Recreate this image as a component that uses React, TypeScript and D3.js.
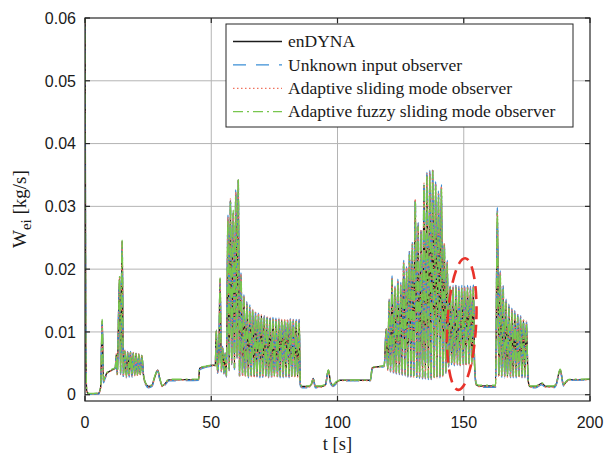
import React, { useEffect, useRef } from "react";
import * as d3 from "d3";

////////////////////
//// Data

// sample times [s], shared by all four series
const timeS = [
    0, 0.3, 0.7, 1.5, 5.3, 6.2, 6.8, 7.3, 7.8, 8.6, 10.5, 12.0,
    12.4, 12.8, 13.3, 13.7, 14.1, 14.7, 15.2, 15.8, 16.4, 16.9, 17.5, 18.0, 18.6, 19.1, 19.7, 20.2, 20.8, 21.3, 21.9, 22.5, 23.2,
    24.0, 25.2, 26.5, 27.6, 28.8, 29.6, 30.6, 31.8, 33.2, 45.0, 45.4, 48.0, 51.0,
    51.6, 52.0, 52.5, 53.0, 53.5, 54.0, 54.5, 55.0, 55.5, 56.0,
    56.6, 57.1, 57.6, 58.1, 58.7, 59.2, 59.7, 60.2, 60.7, 61.2,
    61.8, 62.4, 62.95, 63.5, 64.1, 64.7, 65.25, 65.8, 66.4, 67.0, 67.55, 68.1, 68.7, 69.3, 69.85, 70.4, 71.0, 71.6, 72.15, 72.7,
    73.3, 73.9, 74.45, 75.0, 75.6, 76.2, 76.75, 77.3, 77.9, 78.5, 79.05, 79.6, 80.2, 80.8, 81.35, 81.9, 82.5, 83.1, 83.65, 84.2,
    84.8, 85.3,
    86.0, 88.5, 89.6, 90.4, 91.2, 93.5, 95.2, 96.4, 97.3, 98.2, 99.6, 101.0, 113.0, 113.8, 118.5,
    119.3, 119.9, 120.45, 121.0, 121.6, 122.2, 122.75, 123.3, 123.9, 124.5, 125.05, 125.6, 126.2, 126.8, 127.35, 127.9, 128.5, 129.1, 129.65, 130.2, 130.8, 131.4,
    131.95, 132.5, 133.1, 133.7, 134.25, 134.8, 135.4, 136.0, 136.55, 137.1, 137.7, 138.3, 138.85, 139.4, 140.0, 140.6, 141.15, 141.7, 142.3, 142.9, 143.45, 144.0,
    144.6, 145.2, 145.75, 146.3, 146.9, 147.5, 148.05, 148.6, 149.2, 149.8, 150.35, 150.9, 151.5, 152.1, 152.65, 153.2, 153.8, 154.3, 155.0, 156.0, 162.6,
    163.3, 163.9, 164.45, 165.0, 165.6, 166.2, 166.75, 167.3, 167.9, 168.5, 169.05, 169.6, 170.2, 170.8, 171.35, 171.9, 172.5, 173.1, 173.65, 174.2, 174.8, 175.5,
    176.2, 178.5, 180.9, 182.5, 185.5, 186.6, 188.2, 189.5, 190.5, 191.6, 200,
];

// W_ei in 1e-3 kg/s
const enDyna = [
    65, 8, 0.5, 0.15, 0.2, 1.2, 11.8, 2.2, 2.6, 3.4, 3.9, 4.3,
    6.4, 3.2, 12.7, 18.8, 3.4, 24.5, 3.0, 7.0, 2.9, 6.8, 3.0, 6.8, 3.0, 6.7, 3.1, 6.6, 3.1, 6.5, 3.2, 6.3, 3.0,
    1.8, 1.3, 1.5, 2.8, 3.9, 2.6, 1.4, 1.8, 2.35, 2.45, 4.2, 4.5, 4.7,
    4.6, 10.2, 3.6, 6.0, 18.5, 3.8, 7.5, 3.5, 6.5, 3.0,
    28.0, 4.0, 31.0, 5.0, 29.0, 4.2, 32.1, 6.0, 34.3, 3.0,
    19.0, 3.1, 15.6, 3.0, 14.5, 2.9, 14.0, 3.0, 13.5, 2.9, 13.0, 3.0, 12.8, 2.9, 12.6, 2.9, 12.4, 3.0, 12.3, 2.9,
    12.2, 2.9, 12.1, 3.0, 12.0, 2.9, 12.0, 2.9, 11.9, 2.9, 11.9, 3.0, 11.9, 2.9, 11.9, 2.9, 11.8, 2.9, 11.8, 2.9,
    11.8, 1.6,
    1.3, 1.3, 1.6, 2.6, 1.3, 1.3, 1.6, 3.9, 1.9, 1.5, 2.0, 2.3, 2.3, 4.3, 4.6,
    10.5, 4.0, 15.0, 3.8, 18.5, 3.6, 17.0, 3.5, 18.0, 3.4, 17.5, 3.3, 21.0, 3.2, 20.0, 3.0, 22.5, 3.0, 24.0, 2.9, 31.0, 2.8,
    27.0, 2.8, 26.0, 2.7, 33.5, 2.7, 35.0, 2.6, 35.3, 2.6, 35.8, 2.7, 33.5, 2.8, 32.0, 2.9, 33.0, 3.0, 24.0, 3.6, 21.0, 4.6,
    17.2, 5.0, 17.1, 4.8, 17.2, 4.9, 17.0, 4.7, 17.1, 4.9, 17.0, 4.8, 17.1, 4.9, 17.0, 4.8, 17.2, 4.6, 1.6, 1.4, 1.4,
    29.0, 3.0, 19.3, 2.9, 17.0, 2.9, 14.8, 2.9, 14.0, 2.9, 13.4, 2.9, 13.0, 2.9, 12.6, 2.9, 12.2, 2.9, 11.9, 2.9, 11.5, 2.3,
    1.3, 1.3, 1.8, 1.3, 1.3, 1.7, 4.0, 1.6, 2.0, 2.4, 2.45,
];

const unknownInput = [
    66, 9, 0.3, 0.05, 0.1, 1.0, 11.5, 1.9, 2.4, 3.2, 3.8, 4.2,
    6.6, 3.0, 13.0, 18.5, 3.2, 24.0, 2.8, 7.2, 2.7, 6.9, 2.8, 6.9, 2.8, 6.8, 2.9, 6.7, 2.9, 6.6, 3.0, 6.4, 2.8,
    1.6, 1.1, 1.3, 2.6, 3.8, 2.4, 1.2, 1.6, 2.2, 2.3, 4.0, 4.4, 4.6,
    4.5, 10.0, 3.4, 6.2, 18.2, 3.6, 7.7, 3.3, 6.7, 2.8,
    28.6, 3.8, 31.5, 4.8, 28.6, 4.0, 32.6, 5.8, 34.0, 2.8,
    19.4, 2.9, 15.9, 2.8, 14.8, 2.7, 14.3, 2.8, 13.8, 2.7, 13.3, 2.8, 13.0, 2.7, 12.8, 2.7, 12.6, 2.8, 12.5, 2.7,
    12.4, 2.7, 12.3, 2.8, 12.2, 2.7, 12.2, 2.7, 12.1, 2.7, 12.1, 2.8, 12.1, 2.7, 12.1, 2.7, 12.0, 2.7, 12.0, 2.7,
    12.0, 1.4,
    1.1, 1.1, 1.4, 2.5, 1.1, 1.1, 1.4, 3.8, 1.7, 1.3, 1.8, 2.2, 2.2, 4.2, 4.5,
    10.8, 3.8, 15.4, 3.6, 18.9, 3.4, 17.3, 3.3, 18.4, 3.2, 17.9, 3.1, 21.4, 3.0, 20.4, 2.8, 22.9, 2.8, 24.4, 2.7, 31.4, 2.6,
    27.4, 2.6, 26.4, 2.5, 33.9, 2.5, 35.4, 2.4, 35.7, 2.4, 36.0, 2.5, 33.9, 2.6, 32.4, 2.7, 33.4, 2.8, 24.4, 3.4, 21.4, 4.4,
    17.5, 4.8, 17.4, 4.6, 17.5, 4.7, 17.3, 4.5, 17.4, 4.7, 17.3, 4.6, 17.4, 4.7, 17.3, 4.6, 17.5, 4.4, 1.4, 1.2, 1.2,
    29.8, 2.8, 19.7, 2.7, 17.4, 2.7, 15.2, 2.7, 14.4, 2.7, 13.8, 2.7, 13.4, 2.7, 13.0, 2.7, 12.6, 2.7, 12.3, 2.7, 11.9, 2.1,
    1.1, 1.1, 1.6, 1.1, 1.1, 1.5, 3.9, 1.4, 1.8, 2.3, 2.35,
];

const adaptiveSmo = [
    65, 8.5, 0.4, 0.1, 0.15, 1.1, 11.7, 2.1, 2.5, 3.3, 3.85, 4.25,
    6.5, 3.1, 12.8, 18.7, 3.3, 24.3, 2.9, 7.1, 2.8, 6.85, 2.9, 6.85, 2.9, 6.75, 3.0, 6.65, 3.0, 6.55, 3.1, 6.35, 2.9,
    1.7, 1.2, 1.4, 2.7, 3.85, 2.5, 1.3, 1.7, 2.3, 2.4, 4.1, 4.45, 4.65,
    4.55, 10.1, 3.5, 6.1, 18.4, 3.7, 7.6, 3.4, 6.6, 2.9,
    28.3, 3.9, 31.2, 4.9, 28.8, 4.1, 32.3, 5.9, 34.2, 2.9,
    19.2, 3.0, 15.7, 2.9, 14.6, 2.8, 14.1, 2.9, 13.6, 2.8, 13.1, 2.9, 12.9, 2.8, 12.7, 2.8, 12.5, 2.9, 12.4, 2.8,
    12.3, 2.8, 12.2, 2.9, 12.1, 2.8, 12.1, 2.8, 12.0, 2.8, 12.0, 2.9, 12.0, 2.8, 12.0, 2.8, 11.9, 2.8, 11.9, 2.8,
    11.9, 1.5,
    1.2, 1.2, 1.5, 2.55, 1.2, 1.2, 1.5, 3.85, 1.8, 1.4, 1.9, 2.25, 2.25, 4.25, 4.55,
    10.6, 3.9, 15.2, 3.7, 18.7, 3.5, 17.1, 3.4, 18.2, 3.3, 17.7, 3.2, 21.2, 3.1, 20.2, 2.9, 22.7, 2.9, 24.2, 2.8, 31.2, 2.7,
    27.2, 2.7, 26.2, 2.6, 33.7, 2.6, 35.2, 2.5, 35.5, 2.5, 35.9, 2.6, 33.7, 2.7, 32.2, 2.8, 33.2, 2.9, 24.2, 3.5, 21.2, 4.5,
    17.3, 4.9, 17.2, 4.7, 17.3, 4.8, 17.1, 4.6, 17.2, 4.8, 17.1, 4.7, 17.2, 4.8, 17.1, 4.7, 17.3, 4.5, 1.5, 1.3, 1.3,
    29.2, 2.9, 19.5, 2.8, 17.2, 2.8, 15.0, 2.8, 14.2, 2.8, 13.6, 2.8, 13.2, 2.8, 12.8, 2.8, 12.4, 2.8, 12.1, 2.8, 11.7, 2.2,
    1.2, 1.2, 1.7, 1.2, 1.2, 1.6, 3.95, 1.5, 1.9, 2.35, 2.4,
];

const fuzzySmo = [
    64, 7, 0.6, 0.2, 0.25, 1.3, 12.0, 2.3, 2.7, 3.5, 4.0, 4.4,
    6.3, 3.3, 12.5, 18.9, 3.5, 24.6, 3.1, 6.9, 3.0, 6.7, 3.1, 6.7, 3.1, 6.6, 3.2, 6.5, 3.2, 6.4, 3.3, 6.2, 3.1,
    1.9, 1.4, 1.6, 2.9, 3.95, 2.7, 1.5, 1.9, 2.45, 2.5, 4.3, 4.55, 4.75,
    4.65, 10.3, 3.7, 5.9, 18.6, 3.9, 7.4, 3.6, 6.4, 3.1,
    27.8, 4.1, 30.8, 5.1, 29.4, 4.3, 31.9, 6.1, 34.5, 3.1,
    18.8, 3.2, 15.4, 3.1, 14.3, 3.0, 13.8, 3.1, 13.3, 3.0, 12.8, 3.1, 12.6, 3.0, 12.4, 3.0, 12.2, 3.1, 12.1, 3.0,
    12.0, 3.0, 11.9, 3.1, 11.8, 3.0, 11.8, 3.0, 11.7, 3.0, 11.7, 3.1, 11.7, 3.0, 11.7, 3.0, 11.6, 3.0, 11.6, 3.0,
    11.6, 1.7,
    1.4, 1.4, 1.7, 2.65, 1.4, 1.4, 1.7, 3.95, 2.0, 1.6, 2.1, 2.35, 2.35, 4.35, 4.65,
    10.3, 4.1, 14.8, 3.9, 18.3, 3.7, 16.8, 3.6, 17.8, 3.5, 17.3, 3.4, 20.8, 3.3, 19.8, 3.1, 22.3, 3.1, 23.8, 3.0, 30.8, 2.9,
    26.8, 2.9, 25.8, 2.8, 33.3, 2.8, 34.8, 2.7, 35.1, 2.7, 35.6, 2.8, 33.3, 2.9, 31.8, 3.0, 32.8, 3.1, 23.8, 3.7, 20.8, 4.7,
    17.0, 5.1, 16.9, 4.9, 17.0, 5.0, 16.8, 4.8, 16.9, 5.0, 16.8, 4.9, 16.9, 5.0, 16.8, 4.9, 17.0, 4.7, 1.7, 1.5, 1.5,
    29.0, 3.1, 19.1, 3.0, 16.8, 3.0, 14.6, 3.0, 13.8, 3.0, 13.2, 3.0, 12.8, 3.0, 12.4, 3.0, 12.0, 3.0, 11.7, 3.0, 11.3, 2.4,
    1.4, 1.4, 1.9, 1.4, 1.4, 1.8, 4.05, 1.7, 2.1, 2.45, 2.5,
];

const seriesNames = [
    "enDYNA",
    "Unknown input observer",
    "Adaptive sliding mode observer",
    "Adaptive fuzzy sliding mode observer",
];

const xTicks = [0, 50, 100, 150, 200];
const yTicks = [0, 10, 20, 30, 40, 50, 60]; // 1e-3 kg/s

// marked window: centre (t, W) and half sizes
const markCenter = [149.2, 11.26];
const markHalf = [5.7, 10.5];

////////////////////
//// Chart

const W = 605, H = 457;
const plot = { left: 85, right: 590, top: 18, bottom: 401 };

export default function App() {
    const svgRef = useRef<SVGSVGElement>(null);

    useEffect(() => {
        draw();
    }, []);

    const draw = () => {
        const svg = d3.select(svgRef.current);
        svg.selectAll("*").remove();

        const x = d3.scaleLinear().domain([0, 200]).range([plot.left, plot.right]);
        const y = d3.scaleLinear().domain([-1, 60]).range([plot.bottom, plot.top]);

        svg.append("defs").append("clipPath").attr("id", "plotClip")
            .append("rect")
            .attr("x", plot.left).attr("y", plot.top)
            .attr("width", plot.right - plot.left).attr("height", plot.bottom - plot.top);

        svg.append("rect").attr("width", W).attr("height", H).attr("fill", "#fff");

        // grid
        const grid = svg.append("g").attr("stroke", "#b4b4b4").attr("stroke-width", 1);
        grid.selectAll(".gx").data(xTicks.slice(1, -1)).join("line").attr("class", "gx")
            .attr("x1", d => x(d)).attr("x2", d => x(d))
            .attr("y1", plot.top).attr("y2", plot.bottom);
        grid.selectAll(".gy").data(yTicks.slice(0, -1)).join("line").attr("class", "gy")
            .attr("x1", plot.left).attr("x2", plot.right)
            .attr("y1", d => y(d)).attr("y2", d => y(d));

        // series
        const series = [
            { values: enDyna, color: "#1c1c1c", dash: null },
            { values: unknownInput, color: "#3b8fd6", dash: "13,10" },
            { values: adaptiveSmo, color: "#f0735e", dash: "1.5,2.5" },
            { values: fuzzySmo, color: "#78c64e", dash: "10,4,2,4" },
        ];

        const line = d3.line<number>()
            .defined((d, i) => d != null && timeS[i] != null)
            .x((d, i) => x(timeS[i]))
            .y(d => y(d))
            .curve(d3.curveMonotoneX);

        svg.append("g").attr("clip-path", "url(#plotClip)")
            .selectAll("path").data(series).join("path")
            .attr("fill", "none")
            .attr("stroke", d => d.color)
            .attr("stroke-width", 1.4)
            .attr("stroke-dasharray", d => d.dash)
            .attr("d", d => line(d.values));

        // marked region
        const cx = x(markCenter[0]), cy = y(markCenter[1]);
        svg.append("ellipse")
            .attr("cx", cx).attr("cy", cy)
            .attr("rx", x(markCenter[0] + markHalf[0]) - cx)
            .attr("ry", cy - y(markCenter[1] + markHalf[1]))
            .attr("transform", `rotate(3 ${cx} ${cy})`)
            .attr("fill", "none")
            .attr("stroke", "#e8322a")
            .attr("stroke-width", 2.6)
            .attr("stroke-dasharray", "13,7");

        // frame and ticks
        svg.append("rect")
            .attr("x", plot.left).attr("y", plot.top)
            .attr("width", plot.right - plot.left).attr("height", plot.bottom - plot.top)
            .attr("fill", "none").attr("stroke", "#262626").attr("stroke-width", 1.2);

        const ticks = svg.append("g").attr("stroke", "#262626").attr("stroke-width", 1.2);
        ticks.selectAll(".tb").data(xTicks).join("line").attr("class", "tb")
            .attr("x1", d => x(d)).attr("x2", d => x(d)).attr("y1", plot.bottom).attr("y2", plot.bottom - 5);
        ticks.selectAll(".tt").data(xTicks).join("line").attr("class", "tt")
            .attr("x1", d => x(d)).attr("x2", d => x(d)).attr("y1", plot.top).attr("y2", plot.top + 5);
        ticks.selectAll(".tl").data(yTicks).join("line").attr("class", "tl")
            .attr("x1", plot.left).attr("x2", plot.left + 5).attr("y1", d => y(d)).attr("y2", d => y(d));
        ticks.selectAll(".tr").data(yTicks).join("line").attr("class", "tr")
            .attr("x1", plot.right).attr("x2", plot.right - 5).attr("y1", d => y(d)).attr("y2", d => y(d));

        // tick labels
        const tickFont = "'Liberation Sans', Arial, sans-serif";
        svg.append("g").selectAll("text").data(xTicks).join("text")
            .attr("x", d => x(d)).attr("y", 428)
            .attr("text-anchor", "middle")
            .attr("font-family", tickFont).attr("font-size", 16).attr("fill", "#1a1a1a")
            .text(d => d);
        svg.append("g").selectAll("text").data(yTicks).join("text")
            .attr("x", 76).attr("y", d => y(d)).attr("dy", "0.36em")
            .attr("text-anchor", "end")
            .attr("font-family", tickFont).attr("font-size", 16).attr("fill", "#1a1a1a")
            .text(d => String(+(d / 1000).toFixed(2)));

        // axis titles
        const serif = "'Liberation Serif', 'Times New Roman', serif";
        svg.append("text")
            .attr("x", x(100)).attr("y", 450)
            .attr("text-anchor", "middle")
            .attr("font-family", serif).attr("font-size", 18.5).attr("fill", "#1a1a1a")
            .text("t [s]");

        const yt = svg.append("text")
            .attr("transform", "translate(26,248) rotate(-90)")
            .attr("text-anchor", "start")
            .attr("font-family", serif).attr("font-size", 19).attr("fill", "#1a1a1a");
        yt.append("tspan").text("W");
        yt.append("tspan").attr("dy", 5).attr("font-size", 15).text("ei");
        yt.append("tspan").attr("dy", -5).text(" [kg/s]");

        // legend
        const lg = svg.append("g");
        lg.append("rect")
            .attr("x", 226).attr("y", 24).attr("width", 347).attr("height", 103)
            .attr("fill", "#fff").attr("stroke", "#262626").attr("stroke-width", 1);
        const rows = lg.selectAll("g").data(series).join("g")
            .attr("transform", (d, i) => `translate(0,${ 41.5 + i * 23.4 })`);
        rows.append("line")
            .attr("x1", 233).attr("x2", 282)
            .attr("stroke", d => d.color).attr("stroke-width", 1.3)
            .attr("stroke-dasharray", d => d.dash);
        rows.append("text")
            .attr("x", 288).attr("dy", "0.33em")
            .attr("font-family", serif).attr("font-size", 17.5).attr("fill", "#1a1a1a")
            .text((d, i) => seriesNames[i]);
    };

    return <svg ref={svgRef} width={W} height={H} style={{ position: "absolute", left: 0, top: 0 }} />;
}
